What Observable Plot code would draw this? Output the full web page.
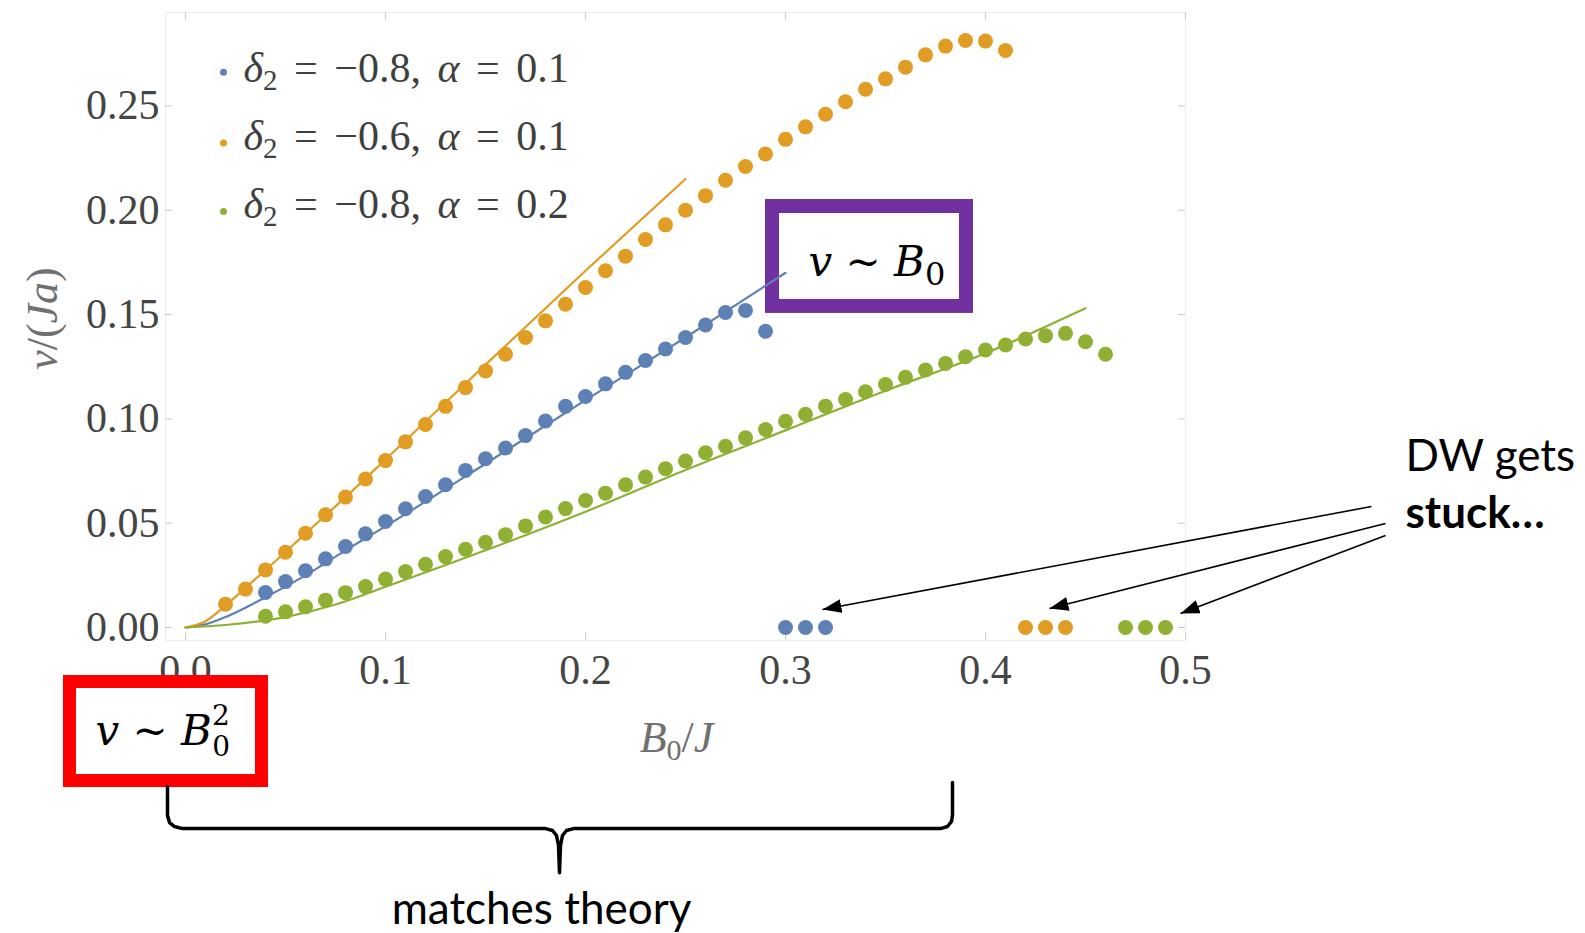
<!DOCTYPE html>
<html>
<head>
<meta charset="utf-8">
<script src="https://cdn.jsdelivr.net/npm/d3@7"></script>
<script src="https://cdn.jsdelivr.net/npm/@observablehq/plot@0.6"></script>
<style>
  html, body { margin: 0; padding: 0; background: #fff; overflow: hidden; }
  #chart svg { display: block; }
</style>
</head>
<body>
<div id="chart"></div>
<script>
// ---------------- data ----------------
const seriesLabels = ["δ₂ = −0.8, α = 0.1", "δ₂ = −0.6, α = 0.1", "δ₂ = −0.8, α = 0.2"];
const seriesColors = ["#5E81B5", "#E19C24", "#8FB032"];

// δ2 = −0.8, α = 0.1 (blue)
const blueB0 = [0.04, 0.05, 0.06, 0.07, 0.08, 0.09, 0.10, 0.11, 0.12, 0.13, 0.14, 0.15, 0.16, 0.17, 0.18, 0.19, 0.20, 0.21, 0.22, 0.23, 0.24, 0.25, 0.26, 0.27, 0.28, 0.29, 0.30, 0.31, 0.32];
const blueV  = [0.0168, 0.0220, 0.0272, 0.0329, 0.0388, 0.0449, 0.0508, 0.0569, 0.0628, 0.0684, 0.0753, 0.0809, 0.0860, 0.0920, 0.0990, 0.1060, 0.1107, 0.1168, 0.1223, 0.1280, 0.1335, 0.1390, 0.1450, 0.1510, 0.1520, 0.1420, 0, 0, 0];

// δ2 = −0.6, α = 0.1 (orange)
const orangeB0 = [0.02, 0.03, 0.04, 0.05, 0.06, 0.07, 0.08, 0.09, 0.10, 0.11, 0.12, 0.13, 0.14, 0.15, 0.16, 0.17, 0.18, 0.19, 0.20, 0.21, 0.22, 0.23, 0.24, 0.25, 0.26, 0.27, 0.28, 0.29, 0.30, 0.31, 0.32, 0.33, 0.34, 0.35, 0.36, 0.37, 0.38, 0.39, 0.40, 0.41, 0.42, 0.43, 0.44];
const orangeV  = [0.0112, 0.0184, 0.0276, 0.0361, 0.0452, 0.0540, 0.0625, 0.0712, 0.0800, 0.0890, 0.0973, 0.1060, 0.1150, 0.1230, 0.1310, 0.1390, 0.1470, 0.1550, 0.1630, 0.1710, 0.1780, 0.1860, 0.1930, 0.2000, 0.2070, 0.2144, 0.2210, 0.2270, 0.2340, 0.2400, 0.2460, 0.2520, 0.2580, 0.2630, 0.2686, 0.2745, 0.2787, 0.2814, 0.2811, 0.2766, 0, 0, 0];

// δ2 = −0.8, α = 0.2 (green)
const greenB0 = [0.04, 0.05, 0.06, 0.07, 0.08, 0.09, 0.10, 0.11, 0.12, 0.13, 0.14, 0.15, 0.16, 0.17, 0.18, 0.19, 0.20, 0.21, 0.22, 0.23, 0.24, 0.25, 0.26, 0.27, 0.28, 0.29, 0.30, 0.31, 0.32, 0.33, 0.34, 0.35, 0.36, 0.37, 0.38, 0.39, 0.40, 0.41, 0.42, 0.43, 0.44, 0.45, 0.46, 0.47, 0.48, 0.49];
const greenV  = [0.0054, 0.0075, 0.0099, 0.0131, 0.0167, 0.0196, 0.0232, 0.0268, 0.0303, 0.0340, 0.0375, 0.0409, 0.0445, 0.0487, 0.0530, 0.0570, 0.0609, 0.0644, 0.0684, 0.0721, 0.0761, 0.0798, 0.0838, 0.0869, 0.0909, 0.0949, 0.0989, 0.1022, 0.1061, 0.1093, 0.1130, 0.1165, 0.1199, 0.1234, 0.1266, 0.1298, 0.1330, 0.1354, 0.1383, 0.1399, 0.1410, 0.1370, 0.1310, 0, 0, 0];

// theory curves
const blueTheoryB0   = [0, 0.01, 0.02, 0.03, 0.04, 0.06, 0.08, 0.10, 0.15, 0.20, 0.25, 0.30];
const blueTheoryV    = [0, 0.0015, 0.0050, 0.0095, 0.0145, 0.0250, 0.0370, 0.0485, 0.0785, 0.1090, 0.1390, 0.1700];
const orangeTheoryB0 = [0, 0.01, 0.02, 0.03, 0.04, 0.06, 0.08, 0.10, 0.15, 0.20, 0.25];
const orangeTheoryV  = [0, 0.0030, 0.0105, 0.0190, 0.0275, 0.0450, 0.0625, 0.0805, 0.1260, 0.1710, 0.2150];
const greenTheoryB0  = [0, 0.02, 0.05, 0.075, 0.10, 0.15, 0.20, 0.25, 0.30, 0.35, 0.40, 0.45];
const greenTheoryV   = [0, 0.0012, 0.0050, 0.0110, 0.0195, 0.0370, 0.0555, 0.0755, 0.0945, 0.1135, 0.1315, 0.1530];

// ticks
const xTicks = [0, 0.1, 0.2, 0.3, 0.4, 0.5];
const xTickLabels = ["0.0", "0.1", "0.2", "0.3", "0.4", "0.5"];
const yTicks = [0, 0.05, 0.10, 0.15, 0.20, 0.25];
const yTickLabels = ["0.00", "0.05", "0.10", "0.15", "0.20", "0.25"];

// annotation anchors (in data units)
const legendDotB0 = [0.019, 0.019, 0.019];
const legendDotV  = [0.2661, 0.2323, 0.1994];
const legendTextB0 = [0.029, 0.029, 0.029];
const legendTextV  = [0.2617, 0.2287, 0.1961];

const boxPurple = [{x1: 0.2935, x2: 0.3905, y1: 0.1539, y2: 0.2018}];
const boxRed    = [{x1: -0.05775, x2: 0.03825, y1: -0.07359, y2: -0.02613}];
const braceB0 = [-0.009, -0.009, -0.008, -0.0055, -0.0015, 0.180, 0.1835, 0.1855, 0.1865, 0.187, 0.1875, 0.1885, 0.1905, 0.194, 0.3775, 0.381, 0.383, 0.3835, 0.3835];
const braceV  = [-0.0762, -0.0901, -0.0935, -0.0954, -0.0964, -0.0964, -0.0973, -0.0997, -0.1045, -0.1175, -0.1045, -0.0997, -0.0973, -0.0964, -0.0964, -0.0954, -0.0930, -0.0897, -0.0743];
const arrows = [
  {x1: 0.593, y1: 0.0580, x2: 0.3185, y2: 0.0086},
  {x1: 0.600, y1: 0.0499, x2: 0.4320, y2: 0.0091},
  {x1: 0.600, y1: 0.0441, x2: 0.4975, y2: 0.0067}
];
const noteRegular = [{x: 0.61, y: 0.0748, text: "DW gets"}];
const noteBold    = [{x: 0.61, y: 0.0479, text: "stuck…"}];
const noteBottom  = [{x: 0.178, y: -0.1419, text: "matches theory"}];
const mathNotes = [
  {x: 0.3115, y: 0.1687, text: "v ~ B₀"},
  {x: -0.045, y: -0.0561, text: "v ~ B₀²"}
];
const xLabel = [{x: 0.2455, y: -0.0599, text: "B₀/J"}];
const yLabel = [{x: -0.0715, y: 0.1481, text: "v/(Ja)"}];

// ---------------- layout ----------------
const W = 1585, H = 933;
const mL = 165, mR = 400, mT = 12, mB = 293;
const xDomain = [-0.01, 0.5];
const yDomain = [-0.00623, 0.2948];
const kx = (W - mL - mR) / (xDomain[1] - xDomain[0]);
const ky = (H - mT - mB) / (yDomain[1] - yDomain[0]);
const tickLen = 7;

const zip = (xs, ys) => xs.map((x, i) => ({B0: x, v: ys[i]}));
const blue = zip(blueB0, blueV), orange = zip(orangeB0, orangeV), green = zip(greenB0, greenV);
const blueT = zip(blueTheoryB0, blueTheoryV), orangeT = zip(orangeTheoryB0, orangeTheoryV), greenT = zip(greenTheoryB0, greenTheoryV);
const legend = seriesLabels.map((s, i) => ({s, i, dx: legendDotB0[i], dy: legendDotV[i], tx: legendTextB0[i], ty: legendTextV[i]}));
const brace = zip(braceB0, braceV);

const serif = "Liberation Serif";
const sans = "Lato";
const svg = Plot.plot({
  width: W, height: H,
  marginLeft: mL, marginRight: mR, marginTop: mT, marginBottom: mB,
  style: {fontFamily: serif, fontSize: "42px", background: "#fff", overflow: "visible"},
  x: {domain: xDomain, label: null},
  y: {domain: yDomain, label: null},
  marks: [
    Plot.frame({stroke: "#ececec"}),
    Plot.ruleX(xTicks, {x: d => d, y1: yDomain[0], y2: yDomain[0] + tickLen / ky, stroke: "#c8c8c8"}),
    Plot.ruleX(xTicks, {x: d => d, y1: yDomain[1], y2: yDomain[1] - tickLen / ky, stroke: "#c8c8c8"}),
    Plot.ruleY(yTicks, {y: d => d, x1: xDomain[0], x2: xDomain[0] + tickLen / kx, stroke: "#c8c8c8"}),
    Plot.ruleY(yTicks, {y: d => d, x1: xDomain[1], x2: xDomain[1] - tickLen / kx, stroke: "#c8c8c8"}),
    Plot.axisX(xTicks, {anchor: "bottom", tickSize: 0, tickPadding: 14, tickFormat: (d, i) => xTickLabels[i], fontSize: 42, fontFamily: serif, fill: "#454545", label: null}),
    Plot.axisY(yTicks, {anchor: "left", tickSize: 0, tickPadding: 6, tickFormat: (d, i) => yTickLabels[i], fontSize: 42, fontFamily: serif, fill: "#454545", label: null}),
    Plot.text(xLabel, {x: "x", y: "y", text: "text", lineAnchor: "bottom", textAnchor: "middle", fontSize: 44, fontFamily: serif, fill: "#707070"}),
    Plot.text(yLabel, {x: "x", y: "y", text: "text", lineAnchor: "middle", textAnchor: "middle", rotate: -90, fontSize: 44, fontFamily: serif, fontStyle: "italic", fill: "#707070"}),

    // purple annotation box (beneath curves)
    Plot.rect(boxPurple, {x1: "x1", x2: "x2", y1: "y1", y2: "y2", fill: "white", stroke: "#7030A0", strokeWidth: 14}),

    // theory lines
    Plot.line(blueT,   {x: "B0", y: "v", stroke: seriesColors[0], strokeWidth: 2.2, curve: "monotone-x"}),
    Plot.line(orangeT, {x: "B0", y: "v", stroke: seriesColors[1], strokeWidth: 2.2, curve: "monotone-x"}),
    Plot.line(greenT,  {x: "B0", y: "v", stroke: seriesColors[2], strokeWidth: 2.2, curve: "monotone-x"}),

    // simulation points
    Plot.dot(blue,   {x: "B0", y: "v", r: 7.5, fill: seriesColors[0]}),
    Plot.dot(orange, {x: "B0", y: "v", r: 7.5, fill: seriesColors[1]}),
    Plot.dot(green,  {x: "B0", y: "v", r: 7.5, fill: seriesColors[2]}),

    // legend
    Plot.dot(legend, {x: "dx", y: "dy", r: 3.5, fill: d => seriesColors[d.i]}),
    Plot.text(legend, {x: "tx", y: "ty", text: "s", lineAnchor: "bottom", textAnchor: "start", fontSize: 42, fontFamily: serif, fill: "#3f3f3f"}),

    // red box
    Plot.rect(boxRed, {x1: "x1", x2: "x2", y1: "y1", y2: "y2", fill: "white", stroke: "#FF0000", strokeWidth: 13}),
    Plot.text(mathNotes, {x: "x", y: "y", text: "text", lineAnchor: "bottom", textAnchor: "start", fontSize: 42, fontFamily: "DejaVu Serif", fontStyle: "italic", fill: "#000"}),

    // brace
    Plot.line(brace, {x: "B0", y: "v", stroke: "#000", strokeWidth: 3.5, strokeLinejoin: "round", curve: "linear"}),

    // arrows
    Plot.link(arrows, {x1: "x1", y1: "y1", x2: "x2", y2: "y2", stroke: "#000", strokeWidth: 1.6}),

    // notes
    Plot.text(noteRegular, {x: "x", y: "y", text: "text", lineAnchor: "bottom", textAnchor: "start", fontSize: 44, fontFamily: sans, fill: "#000"}),
    Plot.text(noteBold,    {x: "x", y: "y", text: "text", lineAnchor: "bottom", textAnchor: "start", fontSize: 44, fontWeight: "bold", fontFamily: sans, fill: "#000"}),
    Plot.text(noteBottom,  {x: "x", y: "y", text: "text", lineAnchor: "bottom", textAnchor: "middle", fontSize: 44, fontFamily: sans, fill: "#000"})
  ]
});

// rich text (sub/superscripts, italics)
const rich = {
  "δ₂ = −0.8, α = 0.1": '<tspan font-style="italic">δ</tspan><tspan font-size="29" dy="8">2</tspan><tspan dy="-8"> = −0.8, </tspan><tspan font-style="italic">α</tspan> = 0.1',
  "δ₂ = −0.6, α = 0.1": '<tspan font-style="italic">δ</tspan><tspan font-size="29" dy="8">2</tspan><tspan dy="-8"> = −0.6, </tspan><tspan font-style="italic">α</tspan> = 0.1',
  "δ₂ = −0.8, α = 0.2": '<tspan font-style="italic">δ</tspan><tspan font-size="29" dy="8">2</tspan><tspan dy="-8"> = −0.8, </tspan><tspan font-style="italic">α</tspan> = 0.2',
  "v ~ B₀": 'v ~ B<tspan font-style="normal" font-size="32" dy="9">0</tspan>',
  "v ~ B₀²": 'v ~ B<tspan font-style="normal" font-size="28" dy="-20">2</tspan><tspan font-style="normal" font-size="28" dx="-17.5" dy="31">0</tspan>',
  "B₀/J": '<tspan font-style="italic">B</tspan><tspan font-size="30" dy="8">0</tspan><tspan dy="-8">/</tspan><tspan font-style="italic">J</tspan>',
  "v/(Ja)": 'v<tspan font-style="normal">/(</tspan>Ja<tspan font-style="normal">)</tspan>'
};
d3.select(svg).selectAll("text").each(function () {
  const t = this.textContent;
  if (rich[t] !== undefined) {
    this.innerHTML = rich[t];
    this.style.whiteSpace = "pre";
    if (t.startsWith("δ")) this.style.wordSpacing = "6px";
  }
});

// filled arrowheads
const defs = d3.select(svg).insert("defs", ":first-child");
defs.append("marker")
  .attr("id", "arrowhead").attr("markerUnits", "userSpaceOnUse")
  .attr("markerWidth", 20).attr("markerHeight", 14)
  .attr("refX", 19).attr("refY", 7).attr("orient", "auto")
  .append("path").attr("d", "M0,0L19,7L0,14Z").attr("fill", "#000");
d3.select(svg).selectAll('g[aria-label="link"] path').attr("marker-end", "url(#arrowhead)");

document.getElementById("chart").appendChild(svg);
</script>
</body>
</html>
